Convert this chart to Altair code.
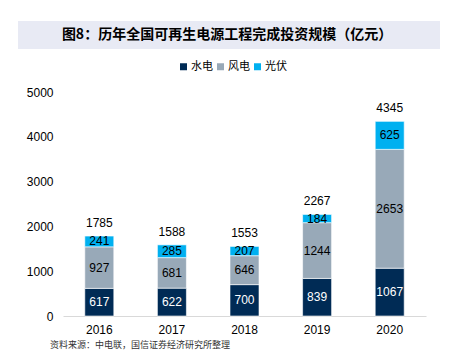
import altair as alt
import pandas as pd

years = ["2016", "2017", "2018", "2019", "2020"]
series = ["水电", "风电", "光伏"]
hydro = [617, 622, 700, 839, 1067]
wind = [927, 681, 646, 1244, 2653]
solar = [241, 285, 207, 184, 625]
totals = [1785, 1588, 1553, 2267, 4345]
colors = ["#002B55", "#98A9B8", "#00B0F0"]
label_colors = ["white", "black", "black"]

rows = []
for i, y in enumerate(years):
    for k, (s, vals) in enumerate(zip(series, [hydro, wind, solar])):
        rows.append({"year": y, "series": s, "value": vals[i], "order": k, "lc": label_colors[k]})
df = pd.DataFrame(rows)
tot = pd.DataFrame({"year": years, "total": totals})

FONT = "Liberation Sans"
CJK = "Noto Sans CJK SC"

x = alt.X("year:N", title=None,
          axis=alt.Axis(labelAngle=0, labelFontSize=12, labelFont=FONT, labelColor="#000",
                        domainColor="#D9D9D9", ticks=False, labelPadding=8),
          scale=alt.Scale(paddingInner=0.6, paddingOuter=0.3))

base = alt.Chart(df)
bars = base.mark_bar(size=29, stroke="white", strokeWidth=0.6).encode(
    x=x,
    y=alt.Y("value:Q", stack="zero", title=None,
            scale=alt.Scale(domain=[0, 5000]),
            axis=alt.Axis(values=[0, 1000, 2000, 3000, 4000, 5000], format="d", grid=False,
                          domain=False, ticks=False, labelFontSize=12, labelFont=FONT,
                          labelColor="#000", labelPadding=10)),
    color=alt.Color("series:N", sort=series,
                    scale=alt.Scale(domain=series, range=colors),
                    legend=alt.Legend(title=None, orient="none", direction="horizontal",
                                      legendX=115, legendY=-31, symbolType="square",
                                      symbolSize=49, symbolStrokeWidth=0,
                                      labelFont=CJK, labelFontSize=11, labelColor="#000",
                                      labelOffset=2, columnPadding=2)),
    order=alt.Order("order:Q"),
)

seg_labels = base.transform_stack(
    stack="value", groupby=["year"], as_=["v0", "v1"], sort=[alt.SortField("order")]
).transform_calculate(mid="(datum.v0 + datum.v1) / 2").mark_text(
    fontSize=12, font=FONT
).encode(
    x=alt.X("year:N"),
    y=alt.Y("mid:Q"),
    text=alt.Text("value:Q"),
    color=alt.Color("lc:N", scale=None),
)

tot_labels = alt.Chart(tot).mark_text(fontSize=12, font=FONT, dy=-13, color="#000").encode(
    x=alt.X("year:N"),
    y=alt.Y("total:Q"),
    text=alt.Text("total:Q"),
)

banner = alt.Chart(tot).mark_rect(color="#E8EAF4", clip=False).encode(
    x=alt.value(-45), x2=alt.value(377), y=alt.value(-71), y2=alt.value(-43)
).transform_filter("datum.year == '2016'")

title = alt.Chart(tot).mark_text(
    text="图8：历年全国可再生电源工程完成投资规模（亿元）", font=CJK, fontSize=14,
    fontWeight="bold", color="#000", clip=False
).encode(x=alt.value(164), y=alt.value(-57)).transform_filter("datum.year == '2016'")

source = alt.Chart(tot).mark_text(
    text="资料来源：中电联，国信证券经济研究所整理", font=CJK, fontSize=9,
    align="left", baseline="top", color="#333", clip=False
).encode(x=alt.value(-13), y=alt.value(249)).transform_filter("datum.year == '2016'")

chart = alt.layer(banner, title, bars, seg_labels, tot_labels, source).properties(
    width=363, height=224,
    padding={"left": 63, "top": 92, "right": 25, "bottom": 38},
    autosize=alt.AutoSizeParams(type="none"),
    background="white",
).configure_view(stroke=None)

chart.save("out.html", embed_options={"renderer": "svg", "actions": False})
